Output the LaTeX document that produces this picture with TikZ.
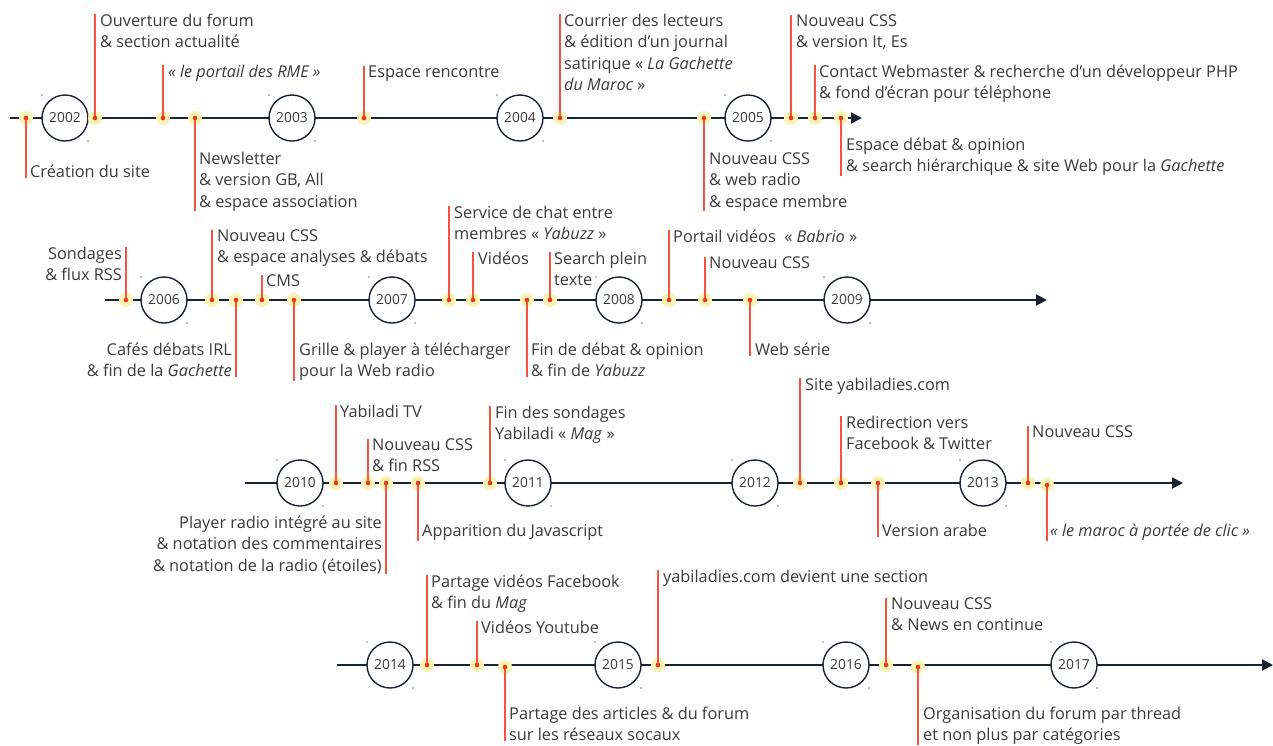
\documentclass[tikz,border=0pt]{standalone}
\usepackage{fontspec}
\setmainfont{Open Sans}
\usetikzlibrary{arrows.meta}
\definecolor{axisnavy}{HTML}{1B2333}
\definecolor{stemred}{HTML}{F5533D}
\definecolor{dotred}{HTML}{EE3322}
\definecolor{haloyel}{HTML}{FAF4B4}
\definecolor{txtgray}{HTML}{3A3A3A}
\tikzset{
  axis/.style={axisnavy,line width=2pt,-{Triangle[length=11pt,width=11pt]}},
  yr/.style={circle,draw=axisnavy,line width=1.4pt,fill=white,minimum size=46pt,inner sep=0pt,
    font=\fontsize{13.8}{14}\selectfont,text=txtgray},
  ev/.style={circle,fill=haloyel,minimum size=14pt,inner sep=0pt},
  stem/.style={stemred,line width=1.6pt},
  lbl/.style={inner sep=0pt,align=left,text=txtgray,font=\fontsize{16.3}{21.4}\selectfont},
  lblr/.style={lbl,align=right},
}
% red centre of an event, tiny marks beside a year
\newcommand{\evdot}[1]{\fill[dotred] (#1.center) circle (2.3);}
\newcommand{\yrmarks}[1]{%
  \fill[gray] ([shift={(-23,-23)}]#1.center) circle (0.8);
  \fill[gray] ([shift={(23,23)}]#1.center) circle (0.8);}

\begin{document}
\begin{tikzpicture}[x=1pt,y=-1pt,line join=round]
  \useasboundingbox (0,0) rectangle (1273,745);
  % labels sit on the baseline of their last line
  % ---------------- row 1 : 2002 - 2005
  \coordinate (r1s) at (10,118);
  \coordinate (r1e) at (862,118);
  \draw[axis] (r1s) -- (r1e);
  \node[yr] (y2002) at (65,118) {2002};
  \node[yr] (y2003) at (292,118) {2003};
  \node[yr] (y2004) at (520,118) {2004};
  \node[yr] (y2005) at (748,118) {2005};
  \foreach \y in {y2002,y2003,y2004,y2005} {\yrmarks{\y}}
  \node[ev] (e11) at (26,118) {};
  \node[ev] (e12) at (95,118) {};
  \node[ev] (e13) at (163,118) {};
  \node[ev] (e14) at (195,118) {};
  \node[ev] (e15) at (364,118) {};
  \node[ev] (e16) at (560,118) {};
  \node[ev] (e17) at (704,118) {};
  \node[ev] (e18) at (791,118) {};
  \node[ev] (e19) at (815,118) {};
  \node[ev] (e110) at (841,118) {};
  \node[lbl,anchor=base west] (t11) at (30,177.5) {Création du site};
  \node[lbl,anchor=base west] (t12) at (100,47.9) {Ouverture du forum\\\& section actualité};
  \node[lbl,anchor=base west] (t13) at (168,77.5) {\textit{« le portail des RME »}};
  \node[lbl,anchor=base west] (t14) at (199,207.3) {Newsletter\\\& version GB, All\\\& espace association};
  \node[lbl,anchor=base west] (t15) at (368,77.5) {Espace rencontre};
  \node[lbl,anchor=base west] (t16) at (564,90.7) {Courrier des lecteurs\\\& édition d'un journal\\satirique « \textit{La Gachette}\\\textit{du Maroc} »};
  \node[lbl,anchor=base west] (t17) at (709,207.3) {Nouveau CSS\\\& web radio\\\& espace membre};
  \node[lbl,anchor=base west] (t18) at (796,47.9) {Nouveau CSS\\\& version It, Es};
  \node[lbl,anchor=base west] (t19) at (819,98.9) {Contact Webmaster \& recherche d'un développeur PHP\\\& fond d'écran pour téléphone};
  \node[lbl,anchor=base west] (t110) at (846,171.9) {Espace débat \& opinion\\\& search hiérarchique \& site Web pour la \textit{Gachette}};
  \draw[stem] (e11.center) -- (e11 |- t11.south);
  \draw[stem] (e12.center) -- (e12 |- t12.north);
  \draw[stem] (e13.center) -- (e13 |- t13.north);
  \draw[stem] (e14.center) -- (e14 |- t14.south);
  \draw[stem] (e15.center) -- (e15 |- t15.north);
  \draw[stem] (e16.center) -- (e16 |- t16.north);
  \draw[stem] (e17.center) -- (e17 |- t17.south);
  \draw[stem] (e18.center) -- (e18 |- t18.north);
  \draw[stem] (e19.center) -- (e19 |- t19.north);
  \draw[stem] (e110.center) -- (e110 |- t110.south);
  \foreach \e in {e11,e12,e13,e14,e15,e16,e17,e18,e19,e110} {\evdot{\e}}

  % ---------------- row 2 : 2006 - 2009
  \coordinate (r2s) at (105,300);
  \coordinate (r2e) at (1047,300);
  \draw[axis] (r2s) -- (r2e);
  \node[yr] (y2006) at (164,300) {2006};
  \node[yr] (y2007) at (392,300) {2007};
  \node[yr] (y2008) at (619,300) {2008};
  \node[yr] (y2009) at (847,300) {2009};
  \foreach \y in {y2006,y2007,y2008,y2009} {\yrmarks{\y}}
  \node[ev] (e21) at (126,300) {};
  \node[ev] (e22) at (212,300) {};
  \node[ev] (e23) at (236,300) {};
  \node[ev] (e24) at (262,300) {};
  \node[ev] (e25) at (294,300) {};
  \node[ev] (e26) at (449,300) {};
  \node[ev] (e27) at (473,300) {};
  \node[ev] (e28) at (527,300) {};
  \node[ev] (e29) at (550,300) {};
  \node[ev] (e210) at (669,300) {};
  \node[ev] (e211) at (705,300) {};
  \node[ev] (e212) at (750,300) {};
  \node[lblr,anchor=base east] (t21) at (122,280.9) {Sondages\\\& flux RSS};
  \node[lbl,anchor=base west] (t22) at (217,262.9) {Nouveau CSS\\\& espace analyses \& débats};
  \node[lblr,anchor=base east] (t23) at (232,376.9) {Cafés débats IRL\\\& fin de la \textit{Gachette}};
  \node[lbl,anchor=base west] (t24) at (266,286.5) {CMS};
  \node[lbl,anchor=base west] (t25) at (299,376.9) {Grille \& player à télécharger\\pour la Web radio};
  \node[lbl,anchor=base west] (t26) at (454,239.9) {Service de chat entre\\membres « \textit{Yabuzz} »};
  \node[lbl,anchor=base west] (t27) at (478,264.5) {Vidéos};
  \node[lbl,anchor=base west] (t28) at (531,376.9) {Fin de débat \& opinion\\\& fin de \textit{Yabuzz}};
  \node[lbl,anchor=base west] (t29) at (554,285.9) {Search plein\\texte};
  \node[lbl,anchor=base west] (t210) at (673,242.5) {Portail vidéos~~« \textit{Babrio} »};
  \node[lbl,anchor=base west] (t211) at (709,268.5) {Nouveau CSS};
  \node[lbl,anchor=base west] (t212) at (755,355.5) {Web série};
  \draw[stem] (e21.center) -- (e21 |- t21.north);
  \draw[stem] (e22.center) -- (e22 |- t22.north);
  \draw[stem] (e23.center) -- (e23 |- t23.south);
  \draw[stem] (e24.center) -- (e24 |- t24.north);
  \draw[stem] (e25.center) -- (e25 |- t25.south);
  \draw[stem] (e26.center) -- (e26 |- t26.north);
  \draw[stem] (e27.center) -- (e27 |- t27.north);
  \draw[stem] (e28.center) -- (e28 |- t28.south);
  \draw[stem] (e29.center) -- (e29 |- t29.north);
  \draw[stem] (e210.center) -- (e210 |- t210.north);
  \draw[stem] (e211.center) -- (e211 |- t211.north);
  \draw[stem] (e212.center) -- (e212 |- t212.south);
  \foreach \e in {e21,e22,e23,e24,e25,e26,e27,e28,e29,e210,e211,e212} {\evdot{\e}}

  % ---------------- row 3 : 2010 - 2013
  \coordinate (r3s) at (245,483);
  \coordinate (r3e) at (1183,483);
  \draw[axis] (r3s) -- (r3e);
  \node[yr] (y2010) at (300,483) {2010};
  \node[yr] (y2011) at (528,483) {2011};
  \node[yr] (y2012) at (755,483) {2012};
  \node[yr] (y2013) at (983,483) {2013};
  \foreach \y in {y2010,y2011,y2012,y2013} {\yrmarks{\y}}
  \node[ev] (e31) at (336,483) {};
  \node[ev] (e32) at (368,483) {};
  \node[ev] (e33) at (386,483) {};
  \node[ev] (e34) at (418,483) {};
  \node[ev] (e35) at (490,483) {};
  \node[ev] (e36) at (800,483) {};
  \node[ev] (e37) at (841,483) {};
  \node[ev] (e38) at (878,483) {};
  \node[ev] (e39) at (1028,483) {};
  \node[ev] (e310) at (1047,485) {};
  \node[lbl,anchor=base west] (t31) at (340,417.5) {Yabiladi TV};
  \node[lbl,anchor=base west] (t32) at (372,471.9) {Nouveau CSS\\\& fin RSS};
  \node[lblr,anchor=base east] (t33) at (382,571.3) {Player radio intégré au site\\\& notation des commentaires\\\& notation de la radio (étoiles)};
  \node[lbl,anchor=base west] (t34) at (422,536.5) {Apparition du Javascript};
  \node[lbl,anchor=base west] (t35) at (495,439.9) {Fin des sondages\\Yabiladi « \textit{Mag} »};
  \node[lbl,anchor=base west] (t36) at (805,390.5) {Site yabiladies.com};
  \node[lbl,anchor=base west] (t37) at (846,449.9) {Redirection vers\\Facebook \& Twitter};
  \node[lbl,anchor=base west] (t38) at (882,536.5) {Version arabe};
  \node[lbl,anchor=base west] (t39) at (1032,437.5) {Nouveau CSS};
  \node[lbl,anchor=base west] (t310) at (1050,536.5) {\textit{« le maroc à portée de clic »}};
  \draw[stem] (e31.center) -- (e31 |- t31.north);
  \draw[stem] (e32.center) -- (e32 |- t32.north);
  \draw[stem] (e33.center) -- (e33 |- t33.south);
  \draw[stem] (e34.center) -- (e34 |- t34.south);
  \draw[stem] (e35.center) -- (e35 |- t35.north);
  \draw[stem] (e36.center) -- (e36 |- t36.north);
  \draw[stem] (e37.center) -- (e37 |- t37.north);
  \draw[stem] (e38.center) -- (e38 |- t38.south);
  \draw[stem] (e39.center) -- (e39 |- t39.north);
  \draw[stem] (e310.center) -- (e310 |- t310.south);
  \foreach \e in {e31,e32,e33,e34,e35,e36,e37,e38,e39,e310} {\evdot{\e}}

  % ---------------- row 4 : 2014 - 2017
  \coordinate (r4s) at (337,665);
  \coordinate (r4e) at (1273,665);
  \draw[axis] (r4s) -- (r4e);
  \node[yr] (y2014) at (390,665) {2014};
  \node[yr] (y2015) at (618,665) {2015};
  \node[yr] (y2016) at (846,665) {2016};
  \node[yr] (y2017) at (1074,665) {2017};
  \foreach \y in {y2014,y2015,y2016,y2017} {\yrmarks{\y}}
  \node[ev] (e41) at (427,665) {};
  \node[ev] (e42) at (477,665) {};
  \node[ev] (e43) at (505,667) {};
  \node[ev] (e44) at (658,665) {};
  \node[ev] (e45) at (886,665) {};
  \node[ev] (e46) at (918,667) {};
  \node[lbl,anchor=base west] (t41) at (431,608.9) {Partage vidéos Facebook\\\& fin du \textit{Mag}};
  \node[lbl,anchor=base west] (t42) at (481,633.5) {Vidéos Youtube};
  \node[lbl,anchor=base west] (t43) at (509,740.9) {Partage des articles \& du forum\\sur les réseaux socaux};
  \node[lbl,anchor=base west] (t44) at (663,582.5) {yabiladies.com devient une section};
  \node[lbl,anchor=base west] (t45) at (891,630.9) {Nouveau CSS\\\& News en continue};
  \node[lbl,anchor=base west] (t46) at (923,740.9) {Organisation du forum par thread\\et non plus par catégories};
  \draw[stem] (e41.center) -- (e41 |- t41.north);
  \draw[stem] (e42.center) -- (e42 |- t42.north);
  \draw[stem] (e43.center) -- (e43 |- t43.south);
  \draw[stem] (e44.center) -- (e44 |- t44.north);
  \draw[stem] (e45.center) -- (e45 |- t45.north);
  \draw[stem] (e46.center) -- (e46 |- t46.south);
  \foreach \e in {e41,e42,e43,e44,e45,e46} {\evdot{\e}}
\end{tikzpicture}
\end{document}
